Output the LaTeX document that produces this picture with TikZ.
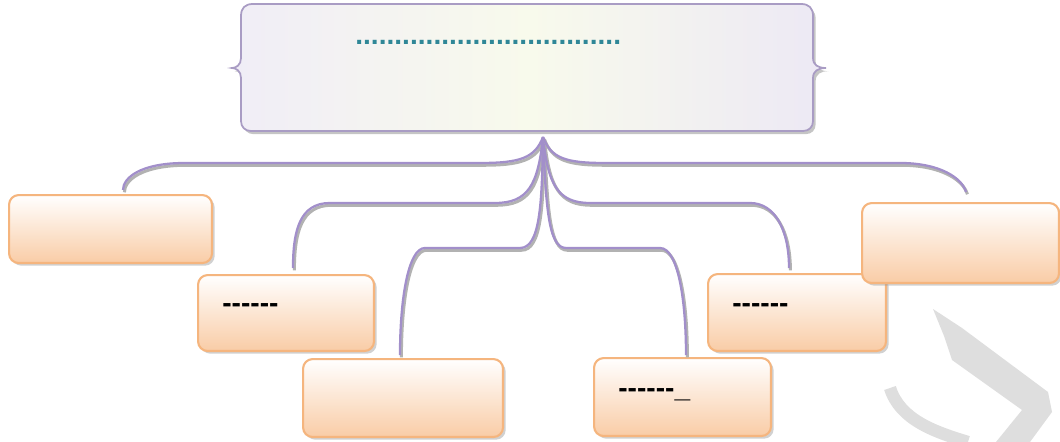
\documentclass[tikz,border=0pt]{standalone}
\usepackage{fontspec}
\setmainfont{Liberation Sans}
\usetikzlibrary{shadows,calc}
\definecolor{lav}{HTML}{A28FCA}
\definecolor{boxline}{HTML}{F5B57E}
\definecolor{peach}{HTML}{F9CCA6}
\definecolor{teal}{HTML}{2F8797}
\definecolor{topline}{HTML}{A99CC4}
\definecolor{wm}{HTML}{DEDEDE}
\definecolor{pale}{HTML}{F8FAEC}
\tikzset{
  leaf/.style={draw=boxline, line width=1.2pt, rounded corners=5.5pt,
    top color=white, bottom color=peach, inner sep=0pt, anchor=north west,
    drop shadow={shadow xshift=1.5pt, shadow yshift=-1.5pt, fill=black!40, opacity=0.45}},
  conn/.style={draw=lav, line width=1.3pt,
    preaction={draw=gray!60, line width=1.7pt, transform canvas={xshift=0.8pt, yshift=-1.3pt}}},
  dashtext/.style={font=\bfseries\fontsize{16}{18}\selectfont, text=black, inner sep=0pt, anchor=base west},
  titletext/.style={font=\bfseries\fontsize{16}{18}\selectfont, text=teal, inner sep=0pt, anchor=base west}
}
\begin{document}
\begin{tikzpicture}[x=0.02cm,y=-0.02cm]
\useasboundingbox (0,0) rectangle (1060,442);
% watermark
\fill[wm] (933,309) -- (962,328) -- (1048,392) -- (1052,412) -- (1030,442) -- (996,442) -- (1022,410) -- (952,360) -- (944,336) -- cycle;
\draw[wm, line width=7pt] (890,388) .. controls (900,420) and (935,432) .. (968,442);
% top box
\path[fill=black!45, opacity=0.5, xshift=1.5pt, yshift=-1.8pt]
  (253,4) -- (801,4) .. controls (809,4) and (813,8) .. (813,16) -- (813,58) .. controls (813,65) and (818,68) .. (826,68) .. controls (818,68) and (813,71) .. (813,78) -- (813,121) .. controls (813,127) and (809,131) .. (803,131) -- (251,131) .. controls (245,131) and (241,127) .. (241,121) -- (241,78) .. controls (241,71) and (236,68) .. (232,68) .. controls (236,68) and (241,65) .. (241,58) -- (241,16) .. controls (241,8) and (245,4) .. (253,4) -- cycle;
\shade[left color=lav!16, right color=lav!20, middle color=pale, draw=topline, line width=1pt]
  (253,4) -- (801,4) .. controls (809,4) and (813,8) .. (813,16) -- (813,58) .. controls (813,65) and (818,68) .. (826,68) .. controls (818,68) and (813,71) .. (813,78) -- (813,121) .. controls (813,127) and (809,131) .. (803,131) -- (251,131) .. controls (245,131) and (241,127) .. (241,121) -- (241,78) .. controls (241,71) and (236,68) .. (232,68) .. controls (236,68) and (241,65) .. (241,58) -- (241,16) .. controls (241,8) and (245,4) .. (253,4) -- cycle;
\node[inner sep=0pt, minimum width=11.44cm, minimum height=2.54cm] (top) at (527,67.5) {};
\node[titletext] (title) at (355,45) {..................................};
\coordinate (hub) at (543,137);
% boxes
\node[leaf, minimum width=4.06cm, minimum height=1.36cm] (L1) at (8,194) {};
\node[leaf, minimum width=3.52cm, minimum height=1.52cm] (L2) at (197,274) {};
\node[leaf, minimum width=4.0cm, minimum height=1.56cm] (B1) at (302,358) {};
\node[leaf, minimum width=3.54cm, minimum height=1.56cm] (B2) at (593,357) {};
\node[leaf, minimum width=3.56cm, minimum height=1.54cm] (R2) at (707,273) {};
\node[leaf, minimum width=3.94cm, minimum height=1.6cm] (R1) at (861,202) {};
% connectors
\draw[conn] (hub) .. controls (535,158) and (520,163) .. (480,163) -- (185,163) .. controls (140,163) and (123,178) .. ($(L1.north west)+(115,-4)$);
\draw[conn] (hub) .. controls (538,185) and (528,203) .. (495,203) -- (330,203) .. controls (300,203) and (293,230) .. ($(L2.north west)+(96,-6)$);
\draw[conn] (hub) .. controls (542,205) and (540,248) .. (520,248) -- (425,248) .. controls (408,248) and (400,300) .. ($(B1.north west)+(98,-3)$);
\draw[conn] (hub) .. controls (546,205) and (548,248) .. (566,248) -- (660,248) .. controls (678,248) and (686,300) .. ($(B2.north west)+(93,-2)$);
\draw[conn] (hub) .. controls (548,185) and (558,203) .. (590,203) -- (750,203) .. controls (775,203) and (789,230) .. ($(R2.north west)+(82,-5)$);
\draw[conn] (hub) .. controls (551,158) and (565,163) .. (605,163) -- (900,163) .. controls (940,163) and (962,178) .. ($(R1.north west)+(105,-10)$);
% texts
\node[dashtext] (t2) at (222,312) {-{}-{}-{}-{}-{}-};
\node[dashtext] (t5) at (732,312) {-{}-{}-{}-{}-{}-};
\node[dashtext] (t4) at (618,397) {-{}-{}-{}-{}-{}-\_};
\end{tikzpicture}
\end{document}
